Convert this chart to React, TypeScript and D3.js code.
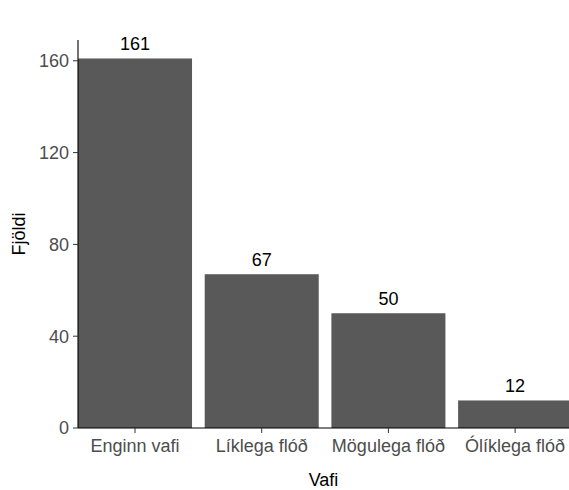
import React, { useEffect } from 'react';
import * as d3 from 'd3';

const categories = ['Enginn vafi', 'Líklega flóð', 'Mögulega flóð', 'Ólíklega flóð'];
const counts = [161, 67, 50, 12];
const yTicks = [0, 40, 80, 120, 160];

const W = 569;
const H = 490;
const margin = { top: 40, right: 0, bottom: 62, left: 78 };

const App: React.FC = () => {
  useEffect(() => {
    document.body.style.margin = '0';
  }, []);

  const plotBottom = H - margin.bottom; // 428
  const y = d3.scaleLinear().domain([0, 169.05]).range([plotBottom, margin.top]);

  // ggplot-like discrete axis: step per category, bars 0.9 wide
  const step = 126.7;
  const x = d3.scaleBand<string>()
    .domain(categories)
    .range([margin.left - 0.05 * step, margin.left - 0.05 * step + step * categories.length])
    .paddingInner(0.1)
    .paddingOuter(0.05);

  const font = '"Liberation Sans", Arial, sans-serif';
  const fs = 18;

  return (
    <svg width={W} height={H} style={{ display: 'block', background: '#fff' }}>
      {/* bars */}
      {categories.map((c, i) => (
        <rect
          key={c}
          x={x(c)}
          y={y(counts[i])}
          width={x.bandwidth()}
          height={plotBottom - y(counts[i])}
          fill="#595959"
        />
      ))}
      {/* value labels */}
      {categories.map((c, i) => (
        <text
          key={c + '-lab'}
          x={(x(c) as number) + x.bandwidth() / 2}
          y={y(counts[i]) - 8}
          textAnchor="middle"
          fontFamily={font}
          fontSize={fs}
          fill="#000"
        >
          {counts[i]}
        </text>
      ))}
      {/* y axis */}
      <line x1={margin.left} x2={margin.left} y1={margin.top} y2={plotBottom} stroke="#000" strokeWidth={1.1} />
      {yTicks.map(t => (
        <g key={t}>
          <line x1={margin.left - 5} x2={margin.left} y1={y(t)} y2={y(t)} stroke="#333" strokeWidth={1} />
          <text
            x={margin.left - 9}
            y={y(t)}
            dy="0.36em"
            textAnchor="end"
            fontFamily={font}
            fontSize={fs}
            fill="#4d4d4d"
          >
            {t}
          </text>
        </g>
      ))}
      {/* x axis */}
      <line x1={margin.left} x2={W} y1={plotBottom} y2={plotBottom} stroke="#000" strokeWidth={1.1} />
      {categories.map(c => {
        const cx = (x(c) as number) + x.bandwidth() / 2;
        return (
          <g key={c + '-tick'}>
            <line x1={cx} x2={cx} y1={plotBottom} y2={plotBottom + 5} stroke="#333" strokeWidth={1} />
            <text
              x={cx}
              y={plotBottom + 24}
              textAnchor="middle"
              fontFamily={font}
              fontSize={fs}
              fill="#4d4d4d"
            >
              {c}
            </text>
          </g>
        );
      })}
      {/* axis titles */}
      <text
        x={(margin.left + W) / 2}
        y={486}
        textAnchor="middle"
        fontFamily={font}
        fontSize={fs}
        fill="#000"
      >
        Vafi
      </text>
      <text
        transform={`translate(25,${(margin.top + plotBottom) / 2}) rotate(-90)`}
        textAnchor="middle"
        fontFamily={font}
        fontSize={fs}
        fill="#000"
      >
        Fjöldi
      </text>
    </svg>
  );
};

export default App;
